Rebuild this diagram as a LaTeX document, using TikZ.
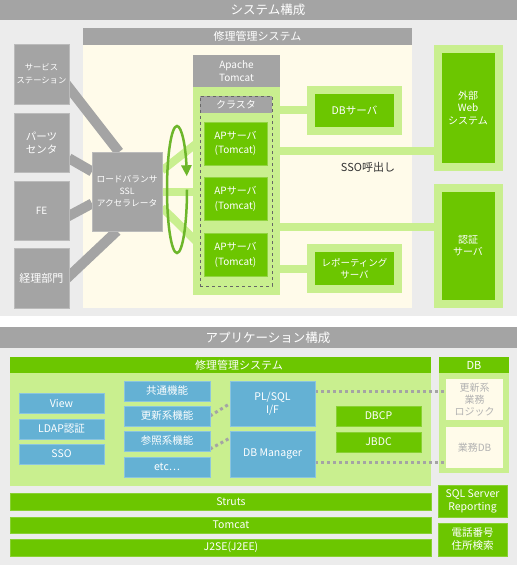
\documentclass[tikz,border=0pt]{standalone}
\usepackage{fontspec}
\setmainfont{Noto Sans CJK JP}
\usepackage{tikz}
\usetikzlibrary{arrows.meta,calc}
\definecolor{bggray}{HTML}{ECECEC}
\definecolor{hdgray}{HTML}{A4A4A4}
\definecolor{cream}{HTML}{FFFBEA}
\definecolor{lgreen}{HTML}{C9EF8F}
\definecolor{sgreen}{HTML}{6CC600}
\definecolor{sblue}{HTML}{64B1D4}
\definecolor{cycgreen}{HTML}{6DB62A}
\newcommand{\fs}[2]{\fontsize{#1}{#2}\selectfont}
\pgfdeclarelayer{background}
\pgfdeclarelayer{links}
\pgfsetlayers{background,links,main}

\begin{document}
\begin{tikzpicture}[x=1pt,y=-1pt,
    every node/.style={inner sep=0,outer sep=0,align=center,text=white},
    ttltxt/.style={font=\fs{12.5}{15}},
    hdtxt/.style={font=\fs{11}{13}},
    gbox/.style={fill=hdgray,draw=hdgray!75!white,line width=0.8},
    ap/.style={fill=sgreen,draw=sgreen!75!white,line width=0.8,minimum width=63,minimum height=43,font=\fs{10}{14.5}},
    srv/.style={fill=sgreen,draw=lgreen,line width=8,font=\fs{10}{12.5}},
    bbox/.style={fill=sblue,draw=sblue!75!white,line width=0.8,font=\fs{10.5}{13}},
    gbar/.style={fill=sgreen,draw=sgreen!80!white,line width=0.8,font=\fs{10.5}{13}},
    cbox/.style={fill=cream,text=black!30,minimum width=57,minimum height=41,font=\fs{10}{12}},
    glink/.style={draw=hdgray,line width=10},
    lband/.style={draw=lgreen,line width=8},
    dots/.style={draw=hdgray,line width=3,dash pattern=on 3pt off 3pt},
    cyc/.style={draw=cycgreen,line width=2.5,-{Triangle[length=11pt,width=10pt]}}]
    \useasboundingbox (0,0) rectangle (517,565);

    \begin{pgfonlayer}{background}
        \fill[hdgray] (0,0) rectangle (517,20);
        \fill[bggray] (0,20) rectangle (517,316);
        \fill[hdgray] (83,28) rectangle (412,45);
        \fill[cream] (83,45) rectangle (412,308);
        \fill[hdgray] (0,327) rectangle (517,348);
        \fill[bggray] (0,348) rectangle (517,565);
        \fill[sgreen] (10,357) rectangle (431,373);
        \fill[lgreen] (10,373) rectangle (431,486);
        \fill[sgreen] (439,357) rectangle (509,373);
        \fill[lgreen] (439,373) rectangle (509,473);
    \end{pgfonlayer}

    \node[ttltxt] (systitle) at (268,10) {システム構成};
    \node[hdtxt] (shuri) at (257.5,36.5) {修理管理システム};

    \node[gbox,minimum width=55,minimum height=60,font=\fs{8.3}{12.5}] (ss) at (41.5,74) {サービス\\ステーション};
    \node[gbox,minimum width=55,minimum height=59,font=\fs{10.5}{13}] (pc) at (41.5,142.5) {パーツ\\センタ};
    \node[gbox,minimum width=55,minimum height=59,font=\fs{10}{12}] (fe) at (41.5,210.5) {FE};
    \node[gbox,minimum width=55,minimum height=60,font=\fs{11}{13}] (acct) at (41.5,278) {経理部門};
    \node[gbox,minimum width=70,minimum height=79,font=\fs{8.7}{12}] (lb) at (127,191.5) {ロードバランサ\\SSL\\アクセラレータ};

    \node[fill=hdgray,minimum width=87,minimum height=32,font=\fs{10}{13}] (apache) at (236.5,71) {Apache\\Tomcat};
    \node[fill=lgreen,minimum width=87,minimum height=208] (tc) at (236.5,191) {};
    \node[fill=hdgray,minimum width=72,minimum height=17,font=\fs{10}{12}] (clhdr) at (236,104.5) {クラスタ};
    \node[draw=black!60,dashed,line width=0.6,minimum width=72,minimum height=190] (cluster) at (236,191) {};
    \node[ap] (ap1) at (235.5,143.5) {APサーバ\\(Tomcat)};
    \node[ap] (ap2) at (235.5,199) {APサーバ\\(Tomcat)};
    \node[ap] (ap3) at (235.5,255) {APサーバ\\(Tomcat)};

    \node[srv,minimum width=87,minimum height=41,font=\fs{10.5}{12.5}] (dbsrv) at (354.5,110) {DBサーバ};
    \node[srv,minimum width=87,minimum height=41,font=\fs{9.5}{12.5}] (repsrv) at (354.5,268.5) {レポーティング\\サーバ};
    \node[srv,minimum width=61,minimum height=118] (websys) at (468,108) {外部\\Web\\システム};
    \node[srv,minimum width=61,minimum height=116] (authsrv) at (468,245.5) {認証\\サーバ};
    \node[text=black!80,font=\fs{11}{13}] (ssocall) at (368,167) {SSO呼出し};

    \draw[cyc] ([xshift=25,yshift=2]lb.east) arc[start angle=0,end angle=348,x radius=10,y radius=63.5];

    \coordinate (ssoy) at ([yshift=40]tc.east);
    \coordinate (authy) at ([yshift=-36]tc.east);

    \node[ttltxt] (apptitle) at (268,337.5) {アプリケーション構成};
    \node[hdtxt] (appshuri) at (239,365) {修理管理システム};
    \node[hdtxt] (dbhdr) at (474,365) {DB};

    \node[bbox,minimum width=85,minimum height=20] (view) at (61.5,403) {View};
    \node[bbox,minimum width=85,minimum height=20] (ldap) at (61.5,429) {LDAP認証};
    \node[bbox,minimum width=85,minimum height=20] (sso) at (61.5,454) {SSO};
    \node[bbox,minimum width=86,minimum height=20] (common) at (167,391) {共通機能};
    \node[bbox,minimum width=86,minimum height=20] (upd) at (167,416) {更新系機能};
    \node[bbox,minimum width=86,minimum height=20] (ref) at (167,441) {参照系機能};
    \node[bbox,minimum width=86,minimum height=20] (etc) at (167,467) {etc⋯};
    \node[bbox,minimum width=85,minimum height=45] (plsql) at (272.5,403.5) {PL/SQL\\I/F};
    \node[bbox,minimum width=85,minimum height=46] (dbm) at (272.5,454) {DB Manager};
    \node[gbar,minimum width=85,minimum height=20] (dbcp) at (378.5,416) {DBCP};
    \node[gbar,minimum width=85,minimum height=20] (jbdc) at (378.5,442) {JBDC};
    \node[cbox] (logic) at (474.5,399.5) {更新系\\業務\\ロジック};
    \node[cbox] (gdb) at (474.5,447.5) {業務DB};

    \node[gbar,minimum width=421,minimum height=17] (struts) at (220.5,501.5) {\hspace*{21pt}Struts};
    \node[gbar,minimum width=421,minimum height=16] (tomcat) at (220.5,525) {\hspace*{21pt}Tomcat};
    \node[gbar,minimum width=421,minimum height=17] (j2se) at (220.5,547.5) {\hspace*{21pt}J2SE(J2EE)};
    \node[gbar,minimum width=69,minimum height=32] (sqlrep) at (472.5,501) {SQL Server\\Reporting};
    \node[gbar,minimum width=69,minimum height=33] (tel) at (472.5,539.5) {電話番号\\住所検索};

    \begin{pgfonlayer}{links}
        \draw[glink] ([xshift=-6,yshift=-6]ss.east) -- ([xshift=-8]lb.north);
        \draw[glink] (pc) -- ([yshift=20]lb.west);
        \draw[glink] ([xshift=-5,yshift=-8]fe.east) -- ([yshift=-12]lb.west);
        \draw[glink] ([xshift=-5,yshift=-3]acct.east) -- ([xshift=-10]lb.south);
        \draw[lband] ([yshift=21]lb.east) -- ([yshift=6]ap1.west);
        \draw[lband] (lb.east) -- (lb.east -| ap2.west);
        \draw[lband] ([yshift=-16]lb.east) -- ([yshift=6]ap3.west);
        \draw[lband] (tc.east |- dbsrv) -- (dbsrv);
        \draw[lband] (ssoy) -- (ssoy -| websys.west);
        \draw[lband] (authy) -- (authy -| authsrv.west);
        \draw[lband] (tc.east |- repsrv) -- (repsrv);
        \draw[dots] (upd.east) -- (plsql.west);
        \draw[dots] ([yshift=-8]ref.east) -- ([yshift=16]dbm.west);
        \draw[dots] ([yshift=12]plsql.east) -- ([yshift=8]logic.west);
        \draw[dots] ([yshift=-8]dbm.east) -- ([yshift=-14.5]gdb.west);
    \end{pgfonlayer}
\end{tikzpicture}
\end{document}
